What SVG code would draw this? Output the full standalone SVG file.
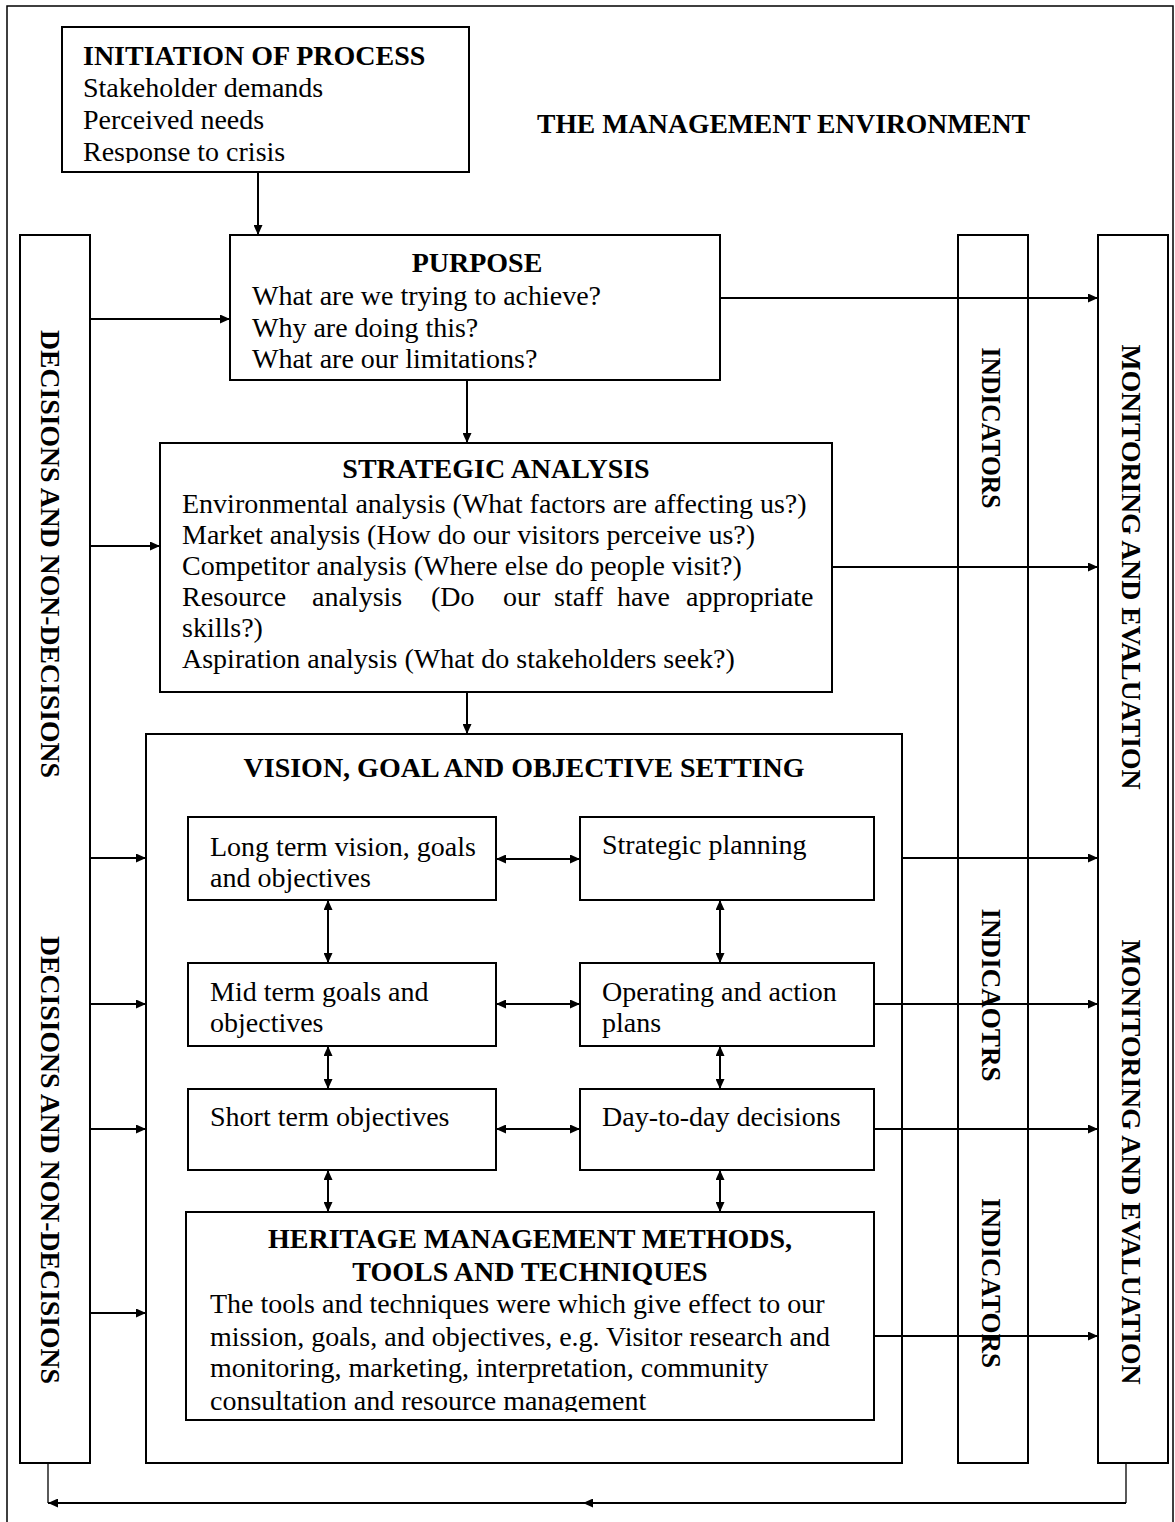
<svg xmlns="http://www.w3.org/2000/svg" width="1175" height="1522" viewBox="0 0 1175 1522">
  <style>
    .box { fill: none; stroke: #000; stroke-width: 2; }
    .frame { fill: none; stroke: #000; stroke-width: 1.5; }
    .t { font-family: "Liberation Serif", "Times New Roman", serif; font-size: 28px; fill: #000; }
    .b { font-weight: bold; }
    .c { text-anchor: middle; }
    .v { font-family: "Liberation Serif", "Times New Roman", serif; font-size: 27px; font-weight: bold; fill: #000; text-anchor: middle; }
    .ln { fill: none; stroke: #000; stroke-width: 2; }
    .thin { fill: none; stroke: #000; stroke-width: 1.3; }
  </style>
  <defs>
    <marker id="ah" viewBox="0 0 10 9" refX="10" refY="4.5" markerWidth="10" markerHeight="9" markerUnits="userSpaceOnUse" orient="auto-start-reverse">
      <path d="M0,0 L10,4.5 L0,9 z" fill="#000"/>
    </marker>
    <!-- text frames crop the last line just under its baseline -->
    <clipPath id="clipInit"><rect x="63" y="28" width="405" height="135"/></clipPath>
    <clipPath id="clipHer"><rect x="187" y="1213" width="686" height="199"/></clipPath>
  </defs>

  <rect x="0" y="0" width="1175" height="1522" fill="#fff"/>
  <!-- outer frame: the management environment -->
  <rect class="frame" x="7" y="6" width="1166" height="1530"/>
  <text class="t b" x="537" y="133" textLength="493" lengthAdjust="spacingAndGlyphs">THE MANAGEMENT ENVIRONMENT</text>

  <g id="initiation">
    <rect class="box" x="62" y="27" width="407" height="145"/>
    <g clip-path="url(#clipInit)">
      <text class="t b" x="83" y="65">INITIATION OF PROCESS</text>
      <text class="t" x="83" y="97">Stakeholder demands</text>
      <text class="t" x="83" y="129">Perceived needs</text>
      <text class="t" x="83" y="161">Response to crisis</text>
    </g>
  </g>

  <g id="decisions">
    <rect class="box" x="20" y="235" width="70" height="1228"/>
    <text class="v" transform="translate(41,554) rotate(90)" textLength="448" lengthAdjust="spacingAndGlyphs">DECISIONS AND NON-DECISIONS</text>
    <text class="v" transform="translate(41,1160) rotate(90)" textLength="448" lengthAdjust="spacingAndGlyphs">DECISIONS AND NON-DECISIONS</text>
  </g>

  <g id="indicators">
    <rect class="box" x="958" y="235" width="70" height="1228"/>
    <text class="v" transform="translate(982,428) rotate(90)" textLength="161" lengthAdjust="spacingAndGlyphs">INDICATORS</text>
    <text class="v" transform="translate(982,995) rotate(90)" textLength="173" lengthAdjust="spacingAndGlyphs">INDICAOTRS</text>
    <text class="v" transform="translate(982,1283) rotate(90)" textLength="170" lengthAdjust="spacingAndGlyphs">INDICATORS</text>
  </g>

  <g id="monitoring">
    <rect class="box" x="1098" y="235" width="70" height="1228"/>
    <text class="v" transform="translate(1122,567) rotate(90)" textLength="445" lengthAdjust="spacingAndGlyphs">MONITORING AND EVALUATION</text>
    <text class="v" transform="translate(1122,1162) rotate(90)" textLength="445" lengthAdjust="spacingAndGlyphs">MONITORING AND EVALUATION</text>
  </g>

  <g id="purpose">
    <rect class="box" x="230" y="235" width="490" height="145" fill="#fff"/>
    <text class="t b c" x="477" y="272">PURPOSE</text>
    <text class="t" x="252" y="305">What are we trying to achieve?</text>
    <text class="t" x="252" y="337">Why are doing this?</text>
    <text class="t" x="252" y="368">What are our limitations?</text>
  </g>

  <g id="strategic-analysis">
    <rect class="box" x="160" y="443" width="672" height="249"/>
    <text class="t b c" x="496" y="478">STRATEGIC ANALYSIS</text>
    <text class="t" x="182" y="513">Environmental analysis (What factors are affecting us?)</text>
    <text class="t" x="182" y="544">Market analysis (How do our visitors perceive us?)</text>
    <text class="t" x="182" y="575">Competitor analysis (Where else do people visit?)</text>
    <text class="t" y="606"><tspan x="182">Resource</tspan><tspan x="312">analysis</tspan><tspan x="431">(Do</tspan><tspan x="503">our</tspan><tspan x="554">staff</tspan><tspan x="617">have</tspan><tspan x="686">appropriate</tspan></text>
    <text class="t" x="182" y="637">skills?)</text>
    <text class="t" x="182" y="668">Aspiration analysis (What do stakeholders seek?)</text>
  </g>

  <g id="vision">
    <rect class="box" x="146" y="734" width="756" height="729"/>
    <text class="t b c" x="524" y="777">VISION, GOAL AND OBJECTIVE SETTING</text>
  </g>

  <g id="long-term">
    <rect class="box" x="188" y="817" width="308" height="83"/>
    <text class="t" x="210" y="856">Long term vision, goals</text>
    <text class="t" x="210" y="887">and objectives</text>
  </g>

  <g id="strategic-planning">
    <rect class="box" x="580" y="817" width="294" height="83"/>
    <text class="t" x="602" y="854">Strategic planning</text>
  </g>

  <g id="mid-term">
    <rect class="box" x="188" y="963" width="308" height="83"/>
    <text class="t" x="210" y="1001">Mid term goals and</text>
    <text class="t" x="210" y="1032">objectives</text>
  </g>

  <g id="operating">
    <rect class="box" x="580" y="963" width="294" height="83"/>
    <text class="t" x="602" y="1001">Operating and action</text>
    <text class="t" x="602" y="1032">plans</text>
  </g>

  <g id="short-term">
    <rect class="box" x="188" y="1089" width="308" height="81"/>
    <text class="t" x="210" y="1126">Short term objectives</text>
  </g>

  <g id="day-to-day">
    <rect class="box" x="580" y="1089" width="294" height="81"/>
    <text class="t" x="602" y="1126">Day-to-day decisions</text>
  </g>

  <g id="heritage">
    <rect class="box" x="186" y="1212" width="688" height="208"/>
    <g clip-path="url(#clipHer)">
      <text class="t b c" x="530" y="1248">HERITAGE MANAGEMENT METHODS,</text>
      <text class="t b c" x="530" y="1281">TOOLS AND TECHNIQUES</text>
      <text class="t" x="210" y="1313">The tools and techniques were which give effect to our</text>
      <text class="t" x="210" y="1346">mission, goals, and objectives, e.g. Visitor research and</text>
      <text class="t" x="210" y="1377">monitoring, marketing, interpretation, community</text>
      <text class="t" x="210" y="1410">consultation and resource management</text>
    </g>
  </g>

  <g id="connectors">
    <!-- main downward flow -->
    <line class="ln" x1="258" y1="172" x2="258" y2="235" marker-end="url(#ah)"/>
    <line class="ln" x1="467" y1="380" x2="467" y2="443" marker-end="url(#ah)"/>
    <line class="ln" x1="467" y1="692" x2="467" y2="734" marker-end="url(#ah)"/>

    <!-- decisions feeding each stage -->
    <line class="ln" x1="90" y1="319" x2="230" y2="319" marker-end="url(#ah)"/>
    <line class="ln" x1="90" y1="546" x2="160" y2="546" marker-end="url(#ah)"/>
    <line class="ln" x1="90" y1="858" x2="146" y2="858" marker-end="url(#ah)"/>
    <line class="ln" x1="90" y1="1004" x2="146" y2="1004" marker-end="url(#ah)"/>
    <line class="ln" x1="90" y1="1129" x2="146" y2="1129" marker-end="url(#ah)"/>
    <line class="ln" x1="90" y1="1313" x2="146" y2="1313" marker-end="url(#ah)"/>

    <!-- stages reporting to monitoring and evaluation -->
    <line class="ln" x1="720" y1="298" x2="1098" y2="298" marker-end="url(#ah)"/>
    <line class="ln" x1="832" y1="567" x2="1098" y2="567" marker-end="url(#ah)"/>
    <line class="ln" x1="902" y1="858" x2="1098" y2="858" marker-end="url(#ah)"/>
    <line class="ln" x1="874" y1="1004" x2="1098" y2="1004" marker-end="url(#ah)"/>
    <line class="ln" x1="874" y1="1129" x2="1098" y2="1129" marker-end="url(#ah)"/>
    <line class="ln" x1="874" y1="1336" x2="1098" y2="1336" marker-end="url(#ah)"/>

    <!-- two-way links inside vision setting -->
    <line class="ln" x1="496" y1="859" x2="580" y2="859" marker-start="url(#ah)" marker-end="url(#ah)"/>
    <line class="ln" x1="496" y1="1004" x2="580" y2="1004" marker-start="url(#ah)" marker-end="url(#ah)"/>
    <line class="ln" x1="496" y1="1129" x2="580" y2="1129" marker-start="url(#ah)" marker-end="url(#ah)"/>
    <line class="ln" x1="328" y1="900" x2="328" y2="963" marker-start="url(#ah)" marker-end="url(#ah)"/>
    <line class="ln" x1="328" y1="1046" x2="328" y2="1089" marker-start="url(#ah)" marker-end="url(#ah)"/>
    <line class="ln" x1="328" y1="1170" x2="328" y2="1212" marker-start="url(#ah)" marker-end="url(#ah)"/>
    <line class="ln" x1="720" y1="900" x2="720" y2="963" marker-start="url(#ah)" marker-end="url(#ah)"/>
    <line class="ln" x1="720" y1="1046" x2="720" y2="1089" marker-start="url(#ah)" marker-end="url(#ah)"/>
    <line class="ln" x1="720" y1="1170" x2="720" y2="1212" marker-start="url(#ah)" marker-end="url(#ah)"/>

    <!-- feedback loop along the bottom -->
    <path class="thin" d="M1126,1463 V1503"/>
    <path class="thin" d="M48,1463 V1503"/>
    <path class="ln" d="M1126,1503 H583" marker-end="url(#ah)"/>
    <path class="ln" d="M583,1503 H48" marker-end="url(#ah)"/>
  </g>
</svg>
